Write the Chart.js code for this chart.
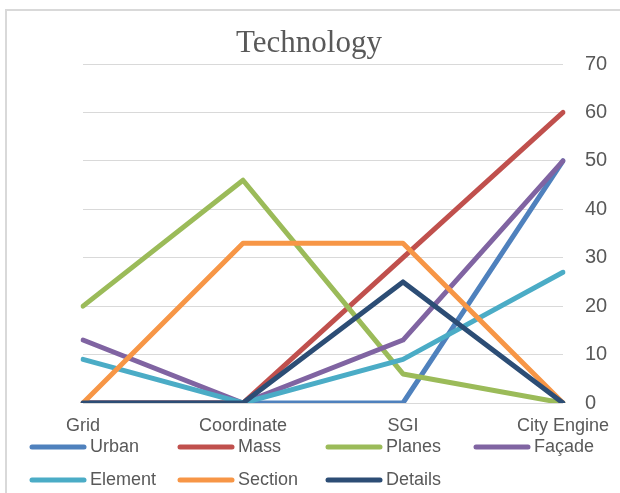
<!DOCTYPE html>
<html>
<head>
<meta charset="utf-8">
<script src="https://cdn.jsdelivr.net/npm/chart.js@4.4.1/dist/chart.umd.min.js"></script>
<style>
  html, body { margin: 0; padding: 0; background: #fff; }
  #wrap { width: 620px; height: 493px; position: relative; }
</style>
</head>
<body>
<div id="wrap"><canvas id="grafico"></canvas></div>
<script>
const categorias = ['Grid', 'Coordinate', 'SGI', 'City Engine'];
const yTicks = [0, 10, 20, 30, 40, 50, 60, 70];

const urban = [0, 0, 0, 50];
const mass = [0, 0, 30, 60];
const planes = [20, 46, 6, 0];
const facade = [13, 0, 13, 50];
const element = [9, 0, 9, 27];
const section = [0, 33, 33, 0];
const details = [0, 0, 25, 0];

const nomes = ['Urban', 'Mass', 'Planes', 'Façade', 'Element', 'Section', 'Details'];
const series = [urban, mass, planes, facade, element, section, details];
const cores = ['#4f81bd', '#c0504d', '#9bbb59', '#8064a2', '#4bacc6', '#f79646', '#2c4d75'];

const FONTE = "'Liberation Sans', Arial, sans-serif";
const CINZA = '#595959';

// moldura cinza clara e titulo
const molduraTitulo = {
  id: 'molduraTitulo',
  beforeDraw(chart) {
    const ctx = chart.ctx;
    ctx.save();
    ctx.strokeStyle = '#d9d9d9';
    ctx.lineWidth = 2;
    ctx.strokeRect(6, 10, 1000, 1000);
    ctx.fillStyle = CINZA;
    ctx.font = "31px 'Liberation Serif', 'Times New Roman', serif";
    ctx.textAlign = 'center';
    ctx.textBaseline = 'alphabetic';
    ctx.fillText('Technology', 309, 52);
    ctx.restore();
  }
};

// legenda em grade, 4 colunas
const legendaGrade = {
  id: 'legendaGrade',
  afterDraw(chart) {
    const ctx = chart.ctx;
    ctx.save();
    ctx.font = '18px ' + FONTE;
    ctx.textBaseline = 'middle';
    ctx.textAlign = 'left';
    nomes.forEach((nome, i) => {
      const col = i % 4;
      const lin = Math.floor(i / 4);
      const x = 30 + col * 148;
      const y = 447 + lin * 33;
      ctx.strokeStyle = cores[i];
      ctx.lineWidth = 5;
      ctx.lineCap = 'round';
      ctx.beginPath();
      ctx.moveTo(x + 2, y);
      ctx.lineTo(x + 54, y);
      ctx.stroke();
      ctx.fillStyle = CINZA;
      ctx.fillText(nome, x + 60, y);
    });
    ctx.restore();
  }
};

const ctx = document.getElementById('grafico').getContext('2d');

new Chart(ctx, {
  type: 'line',
  data: {
    labels: categorias,
    datasets: series.map((dados, i) => ({
      label: nomes[i],
      data: dados,
      borderColor: cores[i],
      backgroundColor: cores[i],
      borderWidth: 5,
      borderCapStyle: 'round',
      borderJoinStyle: 'round',
      pointRadius: 0,
      tension: 0,
      fill: false,
      order: series.length - 1 - i
    }))
  },
  options: {
    responsive: true,
    maintainAspectRatio: false,
    animation: false,
    layout: {
      padding: { left: 83, right: 5, top: 64, bottom: 57 }
    },
    plugins: {
      legend: { display: false },
      title: { display: false },
      tooltip: { enabled: false }
    },
    scales: {
      x: {
        offset: false,
        grid: { display: false },
        border: { display: false },
        afterFit(axis) { axis.height = 33; },
        ticks: {
          color: CINZA,
          font: { size: 18, family: FONTE },
          padding: 4,
          maxRotation: 0
        }
      },
      y: {
        position: 'right',
        min: 0,
        max: 70,
        afterBuildTicks(axis) {
          axis.ticks = yTicks.map(v => ({ value: v }));
        },
        afterFit(axis) { axis.width = 52; },
        grid: { color: '#d9d9d9', lineWidth: 1, drawTicks: false },
        border: { display: false },
        ticks: {
          color: CINZA,
          font: { size: 20, family: FONTE },
          padding: 22
        }
      }
    }
  },
  plugins: [molduraTitulo, legendaGrade]
});
</script>
</body>
</html>
